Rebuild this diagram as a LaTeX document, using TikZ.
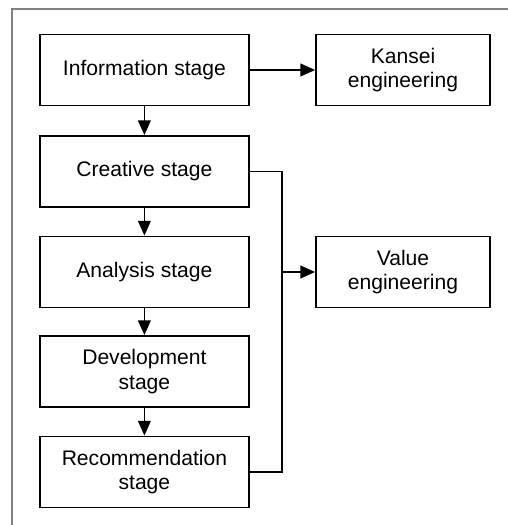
\documentclass[tikz,border=0pt]{standalone}
\usepackage{fontspec}
\setmainfont{Liberation Sans}
\usetikzlibrary{arrows.meta}
\tikzset{
  stage/.style={draw, line width=1.2pt, minimum width=5.225cm, minimum height=1.78cm,
    align=center, inner sep=0pt, font=\fontsize{15}{17.5}\selectfont},
  tool/.style={stage, minimum width=4.35cm},
  flow/.style={line width=1.2pt, -{Triangle[length=0.37cm,width=0.32cm]}}
}
\begin{document}
\begin{tikzpicture}
        \useasboundingbox (0,0) rectangle (12.7,13.125);
        % Outer frame
        \draw[gray, line width=0.9pt] (0.3,0) -- (0.3,12.9) -- (12.7,12.9);

        % Define node positions
        \node[stage] (info) at (3.61, 11.375) {Information stage};
        \node[stage] (creative) at (3.61, 8.8375) {Creative stage};
        \node[stage] (analysis) at (3.61, 6.325) {Analysis stage};
        \node[stage] (develop) at (3.61, 3.8375) {Development\\stage};
        \node[stage] (recommend) at (3.61, 1.325) {Recommendation\\stage};
        \node[tool] (kansei) at (10.075, 11.375) {Kansei\\engineering};
        \node[tool] (value) at (10.075, 6.325) {Value\\engineering};
        \coordinate (bus) at (7.05, 6.325);

        % Draw arrows
        \draw[flow] (info) -- (creative);
        \draw[flow] (creative) -- (analysis);
        \draw[flow] (analysis) -- (develop);
        \draw[flow] (develop) -- (recommend);
        \draw[flow] (info) -- (kansei);

        % Bracket to value engineering
        \draw[line width=1.2pt] (creative.east) -| (bus) |- (recommend.east);
        \draw[flow] (bus) -- (value);
    \end{tikzpicture}
\end{document}
